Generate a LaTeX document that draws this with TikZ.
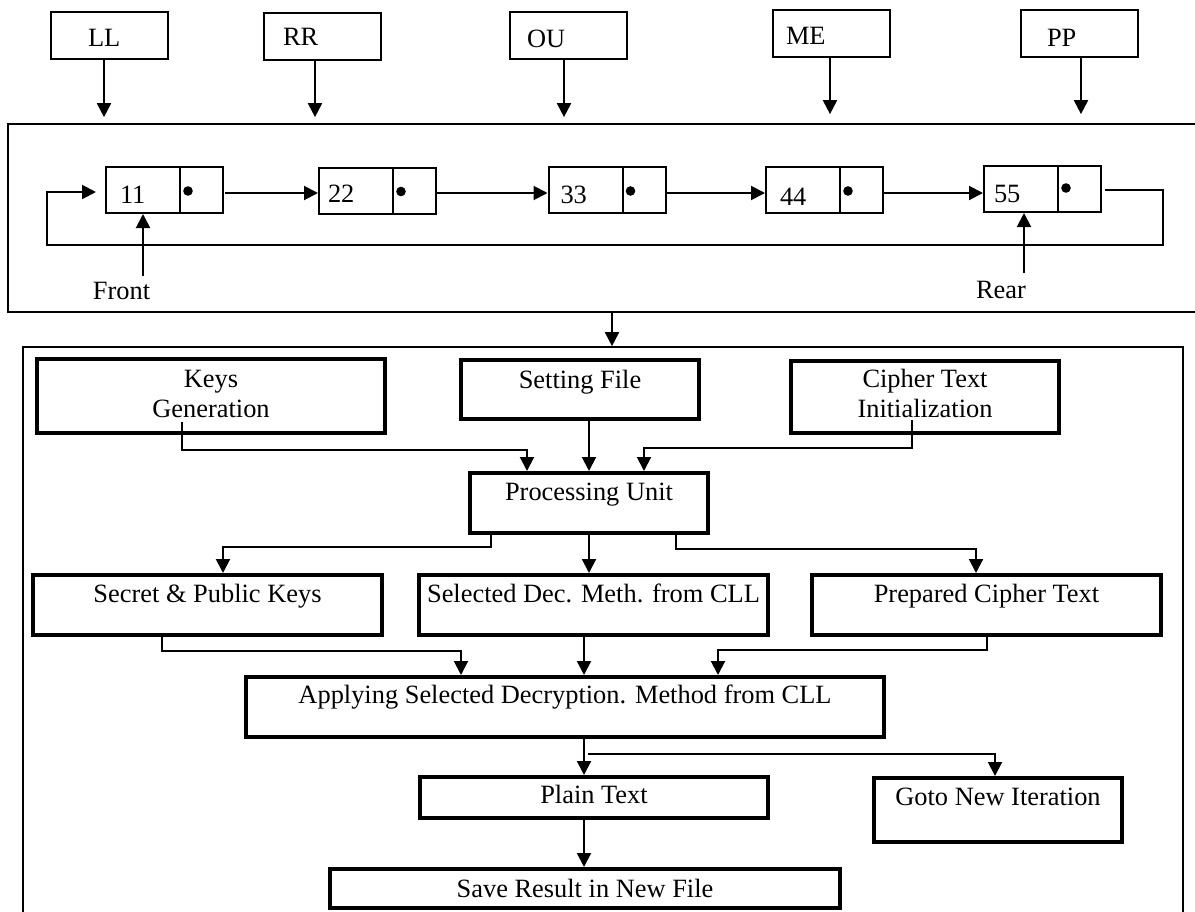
\documentclass[tikz,border=0pt]{standalone}
\usepackage{fontspec}
\setmainfont{Liberation Serif}
\usetikzlibrary{arrows.meta,calc}
\begin{document}
\begin{tikzpicture}[x=1pt,y=-1pt,
  txt/.style={font=\fontsize{26.4}{30}\selectfont, inner sep=0pt},
  lbox/.style={txt, draw, line width=2pt, rectangle, minimum width=117pt, minimum height=47pt, text width=117pt, align=left},
  cell/.style={txt, draw, line width=2pt, rectangle, minimum width=117pt, minimum height=46pt, text width=117pt, align=left},
  pbox/.style={txt, draw, line width=4pt, rectangle},
  frame/.style={draw, line width=1.7pt, rectangle, inner sep=0pt},
  arr/.style={line width=2pt, line join=miter, -{Triangle[length=14pt,width=14pt]}},
  link/.style={line width=2pt, line join=miter}
]
\useasboundingbox (0,0) rectangle (1195,911);

% frames
\node[frame, minimum width=1192pt, minimum height=188pt] (frameA) at (604,218) {};
\node[frame, minimum width=1160pt, minimum height=588pt] (frameB) at (603,641) {};

% top labels
\node[lbox, text height=21pt, text depth=0pt] (LL) at (109.5,35.5) {\hspace*{37pt}LL};
\node[lbox, text height=18.4pt, text depth=0pt] (RR) at (322.5,36.5) {\hspace*{19pt}RR};
\node[lbox, text height=24.4pt, text depth=0pt] (OU) at (568.5,35.5) {\hspace*{17pt}OU};
\node[lbox, text height=21.6pt, text depth=0pt] (ME) at (831.5,33.5) {\hspace*{13pt}ME};
\node[lbox, text height=25pt, text depth=0pt] (PP) at (1079.5,33.5) {\hspace*{26pt}PP};

\coordinate (a1) at (104,0);
\coordinate (a2) at (315,0);
\coordinate (a3) at (564,0);
\coordinate (a4) at (830,0);
\coordinate (a5) at (1081,0);
\draw[arr, shorten >=6pt] (LL.south -| a1) -- (frameA.north -| a1);
\draw[arr, shorten >=6pt] (RR.south -| a2) -- (frameA.north -| a2);
\draw[arr, shorten >=6pt] (OU.south -| a3) -- (frameA.north -| a3);
\draw[arr, shorten >=9pt] (ME.south -| a4) -- (frameA.north -| a4);
\draw[arr, shorten >=9pt] (PP.south -| a5) -- (frameA.north -| a5);

% linked list cells
\node[cell, text height=26pt, text depth=0pt] (n1) at (164.5,190) {\hspace*{14pt}11};
\node[cell, text height=23pt, text depth=0pt] (n2) at (377.5,190.5) {\hspace*{9pt}22};
\node[cell, text height=26pt, text depth=0pt] (n3) at (607,190) {\hspace*{12pt}33};
\node[cell, text height=30pt, text depth=0pt] (n4) at (824.5,190) {\hspace*{14pt}44};
\node[cell, text height=26pt, text depth=0pt] (n5) at (1042.5,189) {\hspace*{10pt}55};

\foreach \n/\dy in {n1/1,n2/1,n3/1,n4/1,n5/-1}{
  \draw[line width=2pt] ($(\n.north west)+(75,0)$) -- ($(\n.south west)+(75,0)$);
  \fill ($(\n.west)+(83,\dy)$) circle (4.8pt);
}

\draw[arr] ($(n1.east)+(1,3)$) -- ($(n2.west)+(0,2.5)$);
\draw[arr] ($(n2.east)+(0,2.5)$) -- ($(n3.west)+(0,3)$);
\draw[arr] ($(n3.east)+(0,3)$) -- ($(n4.west)+(0,3)$);
\draw[arr] ($(n4.east)+(0,3)$) -- ($(n5.west)+(0,4)$);

% circular link back
\coordinate (lpR) at (1163,245);
\coordinate (lpL) at (47,245);
\draw[arr] ($(n5.east)+(3,1)$) -| (lpR) -- (lpL) |- ($(n1.west)+(-9,2)$);

% front / rear
\node[txt, anchor=base] (front) at (121.5,299) {Front};
\node[txt, anchor=base] (rear) at (1001,298) {Rear};
\coordinate (fx) at (143,0);
\coordinate (rx) at (1024,0);
\draw[arr] ($(front.north -| fx)+(0,-5.5)$) -- (n1.south -| fx);
\draw[arr] ($(rear.north -| rx)+(0,-7.5)$) -- (n5.south -| rx);

% between frames
\coordinate (mx) at (612,0);
\draw[arr] (frameA.south -| mx) -- (frameB.north -| mx);

% lower flow boxes
\node[pbox, minimum width=348pt, minimum height=74pt, text height=42pt, text depth=0pt] (KG) at (211,396)
  {\begin{tabular}[b]{@{}c@{}}Keys\\Generation\end{tabular}};
\node[pbox, minimum width=238pt, minimum height=59pt, text height=18pt, text depth=21pt] (SF) at (580,389.5) {Setting File};
\node[pbox, minimum width=268pt, minimum height=72pt, text height=40pt, text depth=0pt] (CT) at (925,397)
  {\begin{tabular}[b]{@{}c@{}}Cipher Text\\Initialization\end{tabular}};
\node[pbox, minimum width=238pt, minimum height=60pt, text height=18pt, text depth=24pt] (PU) at (589,503) {Processing Unit};
\node[pbox, minimum width=349pt, minimum height=60pt, text height=18pt, text depth=24pt] (SP) at (207.5,605) {Secret \& Public Keys};
\node[pbox, minimum width=349pt, minimum height=60pt, text height=18pt, text depth=24pt] (SD) at (593.5,605) {Selected Dec. Meth. from CLL};
\node[pbox, minimum width=349pt, minimum height=60pt, text height=18pt, text depth=24pt] (PC) at (986.5,605) {Prepared Cipher Text};
\node[pbox, minimum width=638pt, minimum height=60pt, text height=18pt, text depth=26pt] (AP) at (565,707) {Applying Selected Decryption. Method from CLL};
\node[pbox, minimum width=348pt, minimum height=41pt, text height=18pt, text depth=7pt] (PT) at (594,797.5) {Plain Text};
\node[pbox, minimum width=248pt, minimum height=64pt, text height=18pt, text depth=28pt] (GN) at (998,810) {Goto New Iteration};
\node[pbox, minimum width=510pt, minimum height=39pt, text height=18pt, text depth=1pt] (SR) at (585,888.5) {Save Result in New File};

% lower connectors
\draw[arr] ($(KG.south)+(-29,-13)$) |- ($(PU.north)+(-62,-21)$) -- ($(PU.north)+(-62,0)$);
\draw[arr] (PU.north |- SF.south) -- (PU.north);
\draw[arr] ($(CT.south)+(-13,-15)$) |- ($(PU.north)+(55,-23)$) -- ($(PU.north)+(55,0)$);

\draw[arr] ($(PU.south)+(-98,0)$) |- ($(SP.north)+(15.5,-26)$) -- ($(SP.north)+(15.5,0)$);
\draw[arr] (PU.south) -- (PU.south |- SD.north);
\draw[arr] ($(PU.south)+(87,0)$) |- ($(PC.north)+(-10.5,-24)$) -- ($(PC.north)+(-10.5,0)$);

\draw[arr] ($(SP.south)+(-45.5,0)$) |- ($(AP.north)+(-104,-24)$) -- ($(AP.north)+(-104,0)$);
\draw[arr] ($(SD.south)+(-9.5,0)$) -- ($(AP.north)+(19,0)$);
\draw[arr] (PC.south) |- ($(AP.north)+(153,-25)$) -- ($(AP.north)+(153,0)$);

\draw[arr] ($(AP.south)+(19,0)$) -- ($(PT.north)+(-10,0)$);
\draw[arr] ($(AP.south)+(23,15)$) -| ($(GN.north)+(-3,0)$);
\draw[arr] ($(PT.south)+(-10,0)$) -- ($(SR.north)+(-1,0)$);
\end{tikzpicture}
\end{document}
